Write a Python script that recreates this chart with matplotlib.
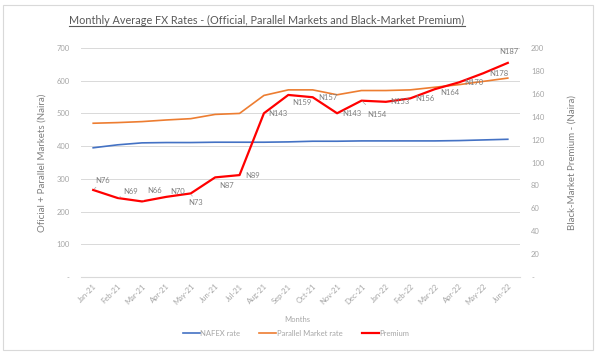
import matplotlib.pyplot as plt
from matplotlib.patches import Rectangle
from matplotlib.lines import Line2D

plt.rcParams['font.family'] = ['Lato', 'DejaVu Sans']

# --------------------------
# data
# --------------------------
months = ["Jan-21", "Feb-21", "Mar-21", "Apr-21", "May-21", "Jun-21", "Jul-21",
          "Aug-21", "Sep-21", "Oct-21", "Nov-21", "Dec-21", "Jan-22", "Feb-22",
          "Mar-22", "Apr-22", "May-22", "Jun-22"]
nafex = [395, 404, 410, 411, 411, 412, 412, 412, 413, 415, 415, 416, 416, 416,
         416, 417, 419, 421]
parallel = [470, 472, 475, 480, 484, 497, 500, 555, 572, 572, 557, 570, 570, 572,
            580, 588, 598, 608]
premium = [76, 69, 66, 70, 73, 87, 89, 143, 159, 157, 143, 154, 153, 156,
           164, 170, 178, 187]
# label offsets (pixels) for the premium data labels
label_offsets = [(9, 9), (13, 6), (13, 11), (11, 5), (5, -9), (11, -8), (13, 0),
                 (14, 0), (14, -8), (15, 0), (15, 0), (15, -14), (14, 0), (15, 0),
                 (15, -3), (15, 0), (15, 0), (1, 11)]
# labels that get a leader line in the original
leaders = [0, 1, 2, 4, 11]

grey = "#595959"
mid = "#7F7F7F"
light = "#A6A6A6"

fig = plt.figure(figsize=(5.98, 3.53), dpi=100)
ax = fig.add_axes([81 / 598, 1 - 277 / 353, (520 - 81) / 598, (277 - 48) / 353])
ax2 = ax.twinx()

x = list(range(len(months)))
ax.plot(x, nafex, color="#4472C4", lw=1.2, label="NAFEX rate")
ax.plot(x, parallel, color="#ED7D31", lw=1.2, label="Parallel Market rate")
ax2.plot(x, premium, color="#FF0000", lw=1.6, label="Premium")

for i, v in enumerate(premium):
    dx, dy = label_offsets[i]
    arrow = None
    if i in leaders:
        arrow = dict(arrowstyle="-", color=light, lw=0.5, shrinkA=4, shrinkB=1)
    ax2.annotate(f"N{v}", (i, v), xytext=(dx, dy), textcoords="offset pixels",
                 ha="center", va="center", fontsize=5.5, color=mid,
                 arrowprops=arrow)

ax.set_xlim(-0.5, len(months) - 0.5)
ax.set_ylim(0, 700)
ax2.set_ylim(0, 200)
ax.set_yticks(range(0, 701, 100))
ax.set_yticklabels(["-"] + [str(v) for v in range(100, 701, 100)])
ax2.set_yticks(range(0, 201, 20))
ax2.set_yticklabels(["-"] + [str(v) for v in range(20, 201, 20)])
ax.set_xticks(x)
ax.set_xticklabels(months, rotation=45, ha="right", rotation_mode="anchor")

ax.yaxis.grid(True, color="#D9D9D9", lw=0.7)
ax.set_axisbelow(True)
for a in (ax, ax2):
    for s in a.spines.values():
        s.set_visible(False)
    a.tick_params(axis="y", length=0, labelsize=5.5, labelcolor=light, pad=8)
ax.spines["bottom"].set_visible(True)
ax.spines["bottom"].set_color("#D9D9D9")
ax.tick_params(axis="x", length=0, labelsize=5.5, labelcolor=light, pad=4)

ax.set_ylabel("Oficial + Parallel Markets (Naira)", fontsize=7, color=mid, labelpad=7)
ax2.set_ylabel("Black-Market Premium - (Naira)", fontsize=7, color=mid, labelpad=17)

fig.text(297 / 598, 1 - 319 / 353, "Months", ha="center", va="center",
         fontsize=5.5, color=light)

handles = ax.get_lines() + ax2.get_lines()
fig.legend(handles, [h.get_label() for h in handles], loc="center",
           bbox_to_anchor=(296 / 598, 1 - 333 / 353), ncol=3, frameon=False,
           fontsize=5.5, labelcolor=light, handlelength=2.2, columnspacing=2.5,
           handletextpad=0.1)

title = fig.text(267 / 598, 1 - 20 / 353,
                 "Monthly Average FX Rates - (Official, Parallel Markets and Black-Market Premium)",
                 ha="center", va="center", fontsize=7.8, color=grey)

# underline the title
fig.canvas.draw()
bb = title.get_window_extent().transformed(fig.transFigure.inverted())
fig.add_artist(Line2D([bb.x0, bb.x1], [bb.y0 - 0.002, bb.y0 - 0.002],
                      transform=fig.transFigure, color=grey, lw=0.8))

fig.add_artist(Rectangle((3 / 598, 3 / 353), 590 / 598, 345 / 353,
                         transform=fig.transFigure, fill=False,
                         edgecolor="#D9D9D9", lw=0.8))

fig.savefig("out.png", dpi=100)
